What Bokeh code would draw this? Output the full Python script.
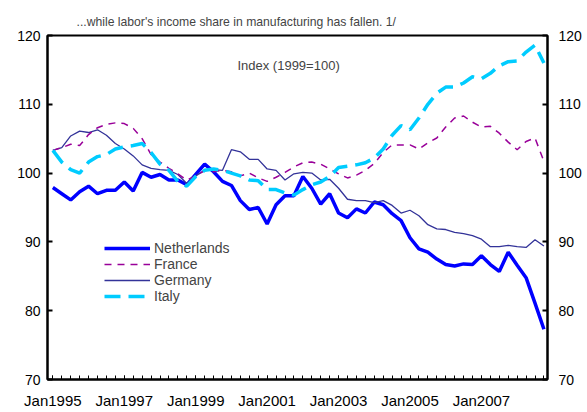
from bokeh.plotting import figure
from bokeh.models import LinearAxis, FixedTicker, Range1d, Legend, LegendItem, Label
from bokeh.embed import file_html
from bokeh.resources import INLINE

quarters = [f"{y}Q{q}" for y in range(1995, 2009) for q in range(1, 5)]

netherlands = [97.9, 97.0, 96.1, 97.3, 98.1, 97.0, 97.5, 97.5, 98.7, 97.4,
               100.1, 99.4, 99.8, 99.0, 99.0, 98.3, 99.8, 101.3, 100.2, 98.8,
               98.2, 96.0, 94.7, 95.0, 92.6, 95.4, 96.7, 96.7, 99.5, 97.8,
               95.5, 97.0, 94.2, 93.5, 94.8, 94.2, 95.8, 95.4, 94.1, 93.1,
               90.6, 89.0, 88.5, 87.5, 86.7, 86.5, 86.8, 86.7, 88.0, 86.7,
               85.7, 88.5, 86.6, 84.8, 81.1, 77.3]
france = [103.3, 103.7, 104.2, 104.0, 105.6, 106.6, 107.1, 107.3, 107.2, 106.5,
          105.0, 102.7, 101.6, 100.7, 99.9, 99.0, 99.6, 100.4, 100.2, 100.4,
          100.2, 99.6, 100.0, 99.3, 98.8, 99.4, 100.1, 100.9, 101.5, 101.6,
          101.3, 100.6, 99.9, 99.3, 99.7, 100.4, 101.4, 103.0, 104.1, 104.1,
          104.1, 103.5, 104.4, 105.1, 106.7, 108.0, 108.3, 107.4, 106.7, 106.8,
          105.8, 104.5, 103.4, 104.6, 105.1, 101.7]
germany = [103.3, 103.7, 105.4, 106.1, 105.9, 106.3, 105.5, 104.3, 103.5, 102.5,
           101.2, 100.7, 100.5, 100.4, 99.8, 98.5, 99.6, 100.4, 100.5, 100.4,
           103.4, 103.1, 102.0, 102.0, 100.6, 100.4, 99.0, 99.9, 100.1, 100.0,
           99.0, 99.1, 97.8, 96.2, 96.0, 96.0, 95.7, 96.0, 95.3, 94.2,
           94.6, 93.8, 92.5, 91.9, 91.8, 91.4, 91.2, 90.9, 90.4, 89.3,
           89.3, 89.5, 89.3, 89.2, 90.3, 89.4]
italy = [103.3, 101.6, 100.5, 100.0, 101.6, 102.4, 102.7, 103.5, 103.8, 104.0,
         104.3, 103.0, 101.3, 100.4, 98.8, 98.1, 99.5, 100.4, 100.6, 100.4,
         100.0, 99.6, 99.0, 98.9, 97.6, 97.6, 97.1, 96.8, 97.6, 98.3,
         98.7, 99.5, 100.8, 101.0, 101.2, 101.5, 102.2, 103.5, 105.5, 106.9,
         106.3, 108.0, 110.0, 111.6, 112.5, 112.5, 113.1, 114.0, 113.7, 114.5,
         115.6, 116.2, 116.3, 117.6, 118.6, 116.0]

tick_quarters = ["1995Q1", "1997Q1", "1999Q1", "2001Q1", "2003Q1", "2005Q1", "2007Q1"]
tick_labels = ["Jan1995", "Jan1997", "Jan1999", "Jan2001", "Jan2003", "Jan2005", "Jan2007"]
y_ticks = [70, 80, 90, 100, 110, 120]
series_names = ["Netherlands", "France", "Germany", "Italy"]

title_text = "...while labor's income share in manufacturing has fallen. 1/"
note_text = "Index (1999=100)"

FONT = "Liberation Sans"
x = list(range(len(quarters)))
tick_pos = [quarters.index(q) for q in tick_quarters]

p = figure(width=587, height=412, output_backend="svg", toolbar_location=None,
           x_range=Range1d(-0.6, 55.4), y_range=Range1d(70, 120),
           min_border_left=47, min_border_right=40, min_border_top=35, min_border_bottom=33)

p.title.text = title_text
p.title.align = "left"
p.title.offset = 29
p.title.text_font = FONT
p.title.text_font_size = "12.2px"
p.title.text_font_style = "normal"
p.title.standoff = 14

p.xgrid.visible = False
p.ygrid.visible = False
p.outline_line_color = "black"
p.outline_line_width = 2
p.background_fill_color = "white"
p.border_fill_color = "white"

xa = p.xaxis[0]
xa.ticker = FixedTicker(ticks=tick_pos, minor_ticks=x)
xa.major_label_overrides = {pos: lab for pos, lab in zip(tick_pos, tick_labels)}
xa.major_tick_in = 4
xa.major_tick_out = 0
xa.minor_tick_in = 4
xa.minor_tick_out = 0
xa.axis_line_width = 2
xa.major_label_text_font = FONT
xa.major_label_text_font_size = "15px"
xa.major_label_standoff = 12
xa.major_label_text_color = "black"

ya = p.yaxis[0]
ya.ticker = FixedTicker(ticks=y_ticks)
ya.major_tick_in = 5
ya.major_tick_out = 0
ya.minor_tick_line_color = None
ya.axis_line_width = 2
ya.major_tick_line_width = 2
ya.major_label_text_font = FONT
ya.major_label_text_font_size = "14px"
ya.major_label_standoff = 7
ya.major_label_text_color = "black"

ra = LinearAxis(ticker=FixedTicker(ticks=y_ticks))
ra.major_tick_in = 5
ra.major_tick_out = 0
ra.minor_tick_line_color = None
ra.axis_line_width = 2
ra.major_tick_line_width = 2
ra.major_label_text_font = FONT
ra.major_label_text_font_size = "14px"
ra.major_label_standoff = 11
ra.major_label_text_color = "black"
p.add_layout(ra, "right")

nl = p.line(x, netherlands, line_color="#0000FF", line_width=3.5)
de = p.line(x, germany, line_color="#333399", line_width=1.3)
fr = p.line(x, france, line_color="#990099", line_width=1.5, line_dash="7 6")
it = p.line(x, italy, line_color="#00CCFF", line_width=3.5, line_dash="16 8")

for name, rend, ypos in zip(series_names, [nl, fr, de, it], [123, 107, 91, 75]):
    p.add_layout(Legend(items=[LegendItem(label=name, renderers=[rend])],
                        location=(57, ypos), glyph_width=46, glyph_height=14, label_height=14,
                        spacing=0, padding=0, margin=0, label_standoff=4,
                        background_fill_alpha=0, border_line_alpha=0,
                        label_text_font=FONT, label_text_font_size="14px"))

p.add_layout(Label(x=26.4, y=115.7, text=note_text, text_align="center",
                   text_baseline="middle", text_font=FONT, text_font_size="13px"))

open("out.html", "w").write(file_html(p, INLINE))
